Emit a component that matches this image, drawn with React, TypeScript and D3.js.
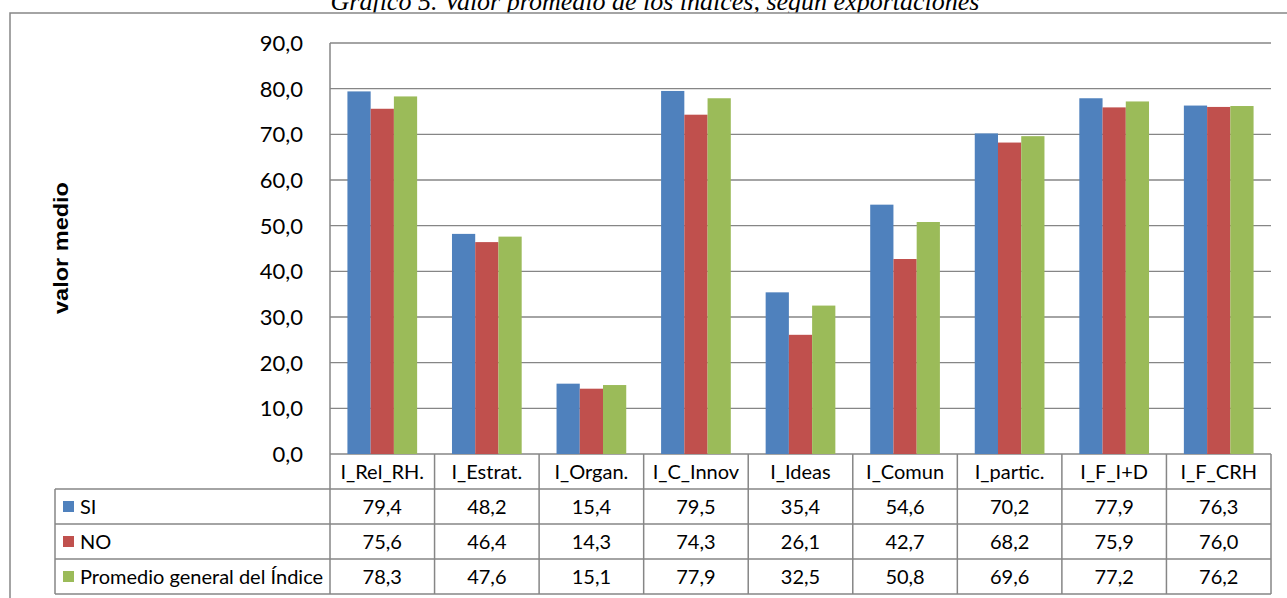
import React from "react";
import * as d3 from "d3";

const categories = ["I_Rel_RH.", "I_Estrat.", "I_Organ.", "I_C_Innov", "I_Ideas", "I_Comun", "I_partic.", "I_F_I+D", "I_F_CRH"];
const serieNames = ["SI", "NO", "Promedio general del Índice"];
const siValues = [79.4, 48.2, 15.4, 79.5, 35.4, 54.6, 70.2, 77.9, 76.3];
const noValues = [75.6, 46.4, 14.3, 74.3, 26.1, 42.7, 68.2, 75.9, 76.0];
const promValues = [78.3, 47.6, 15.1, 77.9, 32.5, 50.8, 69.6, 77.2, 76.2];
const yTicks = [0, 10, 20, 30, 40, 50, 60, 70, 80, 90];
const colors = ["#4F81BD", "#C0504D", "#9BBB59"];
const title = "Gráfico 5. Valor promedio de los índices, según exportaciones";
const yLabel = "valor medio";

const series = [siValues, noValues, promValues];
const fmt = (v: number) => v.toFixed(1).replace(".", ",");

export default function App() {
  const W = 1287, H = 598;
  const plotL = 330, plotR = 1271, plotT = 43, plotB = 454;
  const rowH = 35;
  const tableL = 55;
  const font = "Lato, 'Open Sans', sans-serif";
  const grid = "#868686";

  const x = d3.scaleBand<string>().domain(categories).range([plotL, plotR]).padding(0);
  const y = d3.scaleLinear().domain([0, 90]).range([plotB, plotT]);
  const bw = x.bandwidth();
  const barW = bw / 4.5;

  const rowsTop = plotB + rowH;

  return (
    <div style={{ position: "absolute", left: 0, top: 0, width: W, height: H, overflow: "hidden" }}>
      <svg width={W} height={H} style={{ display: "block" }}>
        <rect x={0} y={0} width={W} height={H} fill="#fff" />
        <text x={655} y={10} textAnchor="middle" fontFamily="'Liberation Serif', 'Times New Roman', serif"
          fontStyle="italic" fontSize={26}>{title}</text>
        <rect x={10} y={13} width={W + 20} height={H + 20} fill="#fff" stroke={grid} strokeWidth={1.5} />

        {yTicks.map((t) => (
          <line key={"g" + t} x1={plotL} x2={plotR} y1={y(t)} y2={y(t)} stroke={grid} strokeWidth={t === 0 ? 1.5 : 1.3} />
        ))}
        <line x1={plotL} x2={plotL} y1={plotT} y2={plotB} stroke={grid} strokeWidth={1.5} />

        {yTicks.map((t) => (
          <text key={"t" + t} x={303} y={y(t)} dy="0.36em" textAnchor="end" fontFamily={font} fontSize={22} fill="#000">
            {fmt(t)}
          </text>
        ))}

        <text transform={`translate(68,248) rotate(-90)`} textAnchor="middle" fontFamily="'Liberation Sans', Arial, sans-serif"
          fontWeight="bold" fontSize={20} textLength={132} lengthAdjust="spacingAndGlyphs">{yLabel}</text>

        {categories.map((c, i) => (
          <g key={c}>
            {series.map((s, k) => (
              <rect key={k} x={(x(c) as number) + barW * (0.75 + k)} y={y(s[i])} width={barW} height={plotB - y(s[i])} fill={colors[k]} />
            ))}
          </g>
        ))}

        {[0, 1, 2, 3].map((r) => (
          <line key={"h" + r} x1={tableL} x2={plotR} y1={rowsTop + r * rowH} y2={rowsTop + r * rowH} stroke={grid} strokeWidth={1.5} />
        ))}
        <line x1={tableL} x2={tableL} y1={rowsTop} y2={rowsTop + 3 * rowH} stroke={grid} strokeWidth={1.5} />
        {categories.map((c, i) => (
          <line key={"v" + i} x1={x(c) as number} x2={x(c) as number} y1={plotB} y2={rowsTop + 3 * rowH} stroke={grid} strokeWidth={1.5} />
        ))}
        <line x1={plotR} x2={plotR} y1={plotB} y2={rowsTop + 3 * rowH} stroke={grid} strokeWidth={1.5} />

        {categories.map((c) => (
          <text key={"c" + c} x={(x(c) as number) + bw / 2} y={plotB + rowH / 2} dy="0.36em" textAnchor="middle" fontFamily={font} fontSize={20}>
            {c}
          </text>
        ))}

        {series.map((s, k) => {
          const cy = rowsTop + k * rowH + rowH / 2;
          return (
            <g key={"r" + k}>
              <rect x={63} y={cy - 5.5} width={11} height={11} fill={colors[k]} />
              <text x={80} y={cy} dy="0.36em" fontFamily={font} fontSize={20}>{serieNames[k]}</text>
              {categories.map((c, i) => (
                <text key={c} x={(x(c) as number) + bw / 2} y={cy} dy="0.36em" textAnchor="middle" fontFamily={font} fontSize={20}>
                  {fmt(s[i])}
                </text>
              ))}
            </g>
          );
        })}
      </svg>
    </div>
  );
}
